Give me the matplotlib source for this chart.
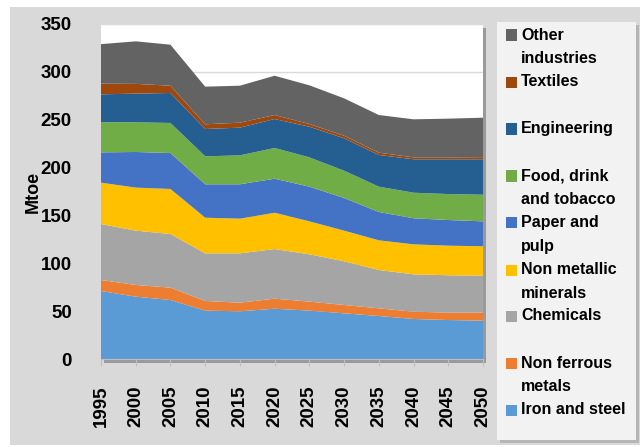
import matplotlib
matplotlib.use('Agg')
import matplotlib.pyplot as plt
from matplotlib.patches import Rectangle

plt.rcParams['font.family'] = ['Liberation Sans', 'DejaVu Sans']
plt.rcParams['font.weight'] = 'bold'
plt.rcParams['axes.labelweight'] = 'bold'

# Datos (Mtoe)
years = [1995, 2000, 2005, 2010, 2015, 2020, 2025, 2030, 2035, 2040, 2045, 2050]
iron_steel = [71.3, 65.4, 61.9, 50.8, 50.1, 52.8, 50.8, 48.0, 45.2, 42.1, 41.0, 40.3]
non_ferrous = [11.5, 12.2, 12.9, 10.1, 9.0, 10.5, 9.4, 8.7, 8.0, 7.6, 7.7, 8.4]
chemicals = [58.4, 56.7, 56.0, 49.7, 51.5, 51.8, 49.4, 45.6, 40.0, 39.0, 39.0, 38.6]
non_metallic = [43.2, 44.9, 47.0, 37.2, 36.2, 37.9, 34.4, 32.0, 31.0, 31.3, 30.9, 30.7]
paper_pulp = [31.6, 37.2, 37.5, 34.9, 35.9, 35.5, 36.2, 34.1, 29.6, 27.2, 26.8, 26.0]
food_drink = [31.4, 31.0, 31.4, 29.2, 30.2, 32.1, 30.6, 28.5, 26.4, 26.7, 27.1, 27.8]
engineering = [29.2, 29.9, 31.3, 28.5, 28.9, 30.2, 32.0, 33.8, 33.1, 34.9, 36.3, 37.0]
textiles = [11.1, 10.2, 7.6, 4.9, 5.2, 4.2, 2.8, 2.7, 2.4, 2.0, 2.0, 2.2]
other = [41.3, 44.4, 42.8, 39.3, 38.6, 41.0, 40.4, 39.0, 39.3, 39.7, 40.4, 41.2]
yticks = [0, 50, 100, 150, 200, 250, 300, 350]

labels = ['Iron and steel', 'Non ferrous\nmetals', 'Chemicals', 'Non metallic\nminerals',
          'Paper and\npulp', 'Food, drink\nand tobacco', 'Engineering', 'Textiles',
          'Other\nindustries']
colors = ['#5B9BD5', '#ED7D31', '#A5A5A5', '#FFC000', '#4472C4', '#70AD47',
          '#255E91', '#9E480E', '#636363']
series = [iron_steel, non_ferrous, chemicals, non_metallic, paper_pulp,
          food_drink, engineering, textiles, other]

fig = plt.figure(figsize=(6.4, 4.47), dpi=100)
fig.patch.set_facecolor('white')

W, H = 640.0, 447.0
def fx(px):
    return px / W
def fy(py):
    return 1 - py / H

# fondo gris
fig.patches.append(Rectangle((fx(10), fy(445)), fx(630), 438 / H, transform=fig.transFigure,
                             facecolor='#D9D9D9', edgecolor='none', zorder=0))
# sombras
fig.patches.append(Rectangle((fx(104), fy(363)), fx(382), 335 / H, transform=fig.transFigure,
                             facecolor='#9A9A9A', edgecolor='none', zorder=0.1))
fig.patches.append(Rectangle((fx(500), fy(443)), fx(139), 418 / H, transform=fig.transFigure,
                             facecolor='#B5B5B5', edgecolor='none', zorder=0.1))
fig.patches.append(Rectangle((fx(497), fy(440)), fx(139), 418 / H, transform=fig.transFigure,
                             facecolor='#F2F2F2', edgecolor='none', zorder=0.2))

ax = fig.add_axes([fx(101), fy(359.3), fx(382), (359.3 - 24) / H])
ax.set_zorder(1)
ax.set_facecolor('white')
ax.stackplot(years, *series, colors=colors, zorder=2)
ax.set_xlim(1995, 2050)
ax.set_ylim(0, 350)
ax.set_xticks(years, labels=[str(y) for y in years], fontweight='bold', fontsize=13.5,
              rotation=90)
ax.set_yticks(yticks, labels=[str(v) for v in yticks], fontweight='bold', fontsize=13.5)
ax.grid(axis='y', color='#D9D9D9', linewidth=1, zorder=0)
ax.set_axisbelow(True)
for s in ['top', 'right', 'left']:
    ax.spines[s].set_visible(False)
ax.spines['bottom'].set_color('#BFBFBF')
ax.spines['bottom'].set_zorder(3)
ax.tick_params(axis='x', colors='#BFBFBF', length=5, labelcolor='black', pad=14)
ax.tick_params(axis='y', length=0, pad=21)
ax.set_ylabel('Mtoe', fontsize=13, fontweight='bold', labelpad=-1)

# leyenda manual
ypos = [410, 363, 316, 270, 223, 176, 129, 82, 35]
for lab, col, yp in zip(labels, colors, ypos):
    fig.patches.append(Rectangle((fx(506), fy(yp + 5.5)), fx(11), 11 / H,
                                 transform=fig.transFigure, facecolor=col,
                                 edgecolor='none', zorder=1))
    fig.text(fx(521), fy(yp - 7.5), lab, fontsize=11.5, fontweight='bold',
             va='top', ha='left', linespacing=1.7, zorder=2)

fig.savefig('out.png', dpi=100, facecolor=fig.get_facecolor())
